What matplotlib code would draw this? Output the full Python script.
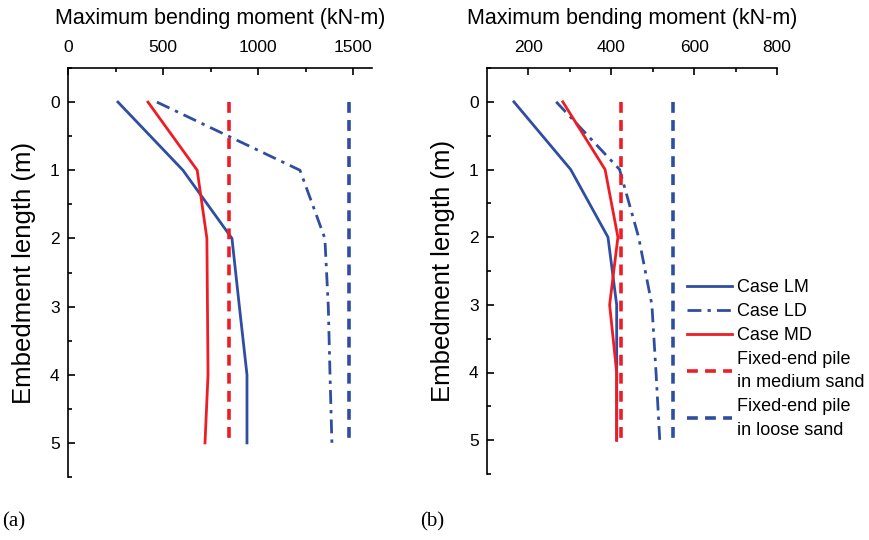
"""
Maximum bending moment vs embedment length, two panels (a) and (b)
"""
import matplotlib
matplotlib.use("Agg")
from matplotlib import pyplot as plt

plt.rcParams["font.family"] = ["Liberation Sans", "DejaVu Sans"]

BLUE = "#2f4ea1"
RED = "#ee1d25"

depth = [0, 1, 2, 3, 4, 5]
depth_fixed = [0, 5]

# Panel (a)
a_lm = [263, 605, 863, 902, 942, 942]
a_ld = [468, 1221, 1352, 1370, 1379, 1389]
a_md = [421, 680, 731, 734, 737, 721]
a_fixed_medium = [848, 848]
a_fixed_loose = [1479, 1479]

# Panel (b)
b_lm = [165, 302, 392, 413, 413, 413]
b_ld = [267, 420, 466, 498, 508, 517]
b_md = [283, 385, 416, 396, 413, 413]
b_fixed_medium = [424, 424]
b_fixed_loose = [549, 549]

legend_labels = ["Case LM", "Case LD", "Case MD",
                 "Fixed-end pile\nin medium sand", "Fixed-end pile\nin loose sand"]

fig = plt.figure(figsize=(8.69, 5.40), dpi=100)
ax_a = fig.add_axes([68 / 869, 63 / 540, 304 / 869, 409 / 540])
ax_b = fig.add_axes([487 / 869, 66 / 540, 290 / 869, 406 / 540])

lw = 2.0
dash_dot = (0, (5, 2.2, 1.2, 2.2))
dashed = (0, (3, 2))


def draw(ax, lm, ld, md, fixed_medium, fixed_loose):
    lines = []
    lines += ax.plot(lm, depth, color=BLUE, lw=lw, linestyle="-")
    lines += ax.plot(ld, depth, color=BLUE, lw=lw, linestyle=dash_dot)
    lines += ax.plot(md, depth, color=RED, lw=lw, linestyle="-")
    lines += ax.plot(fixed_medium, depth_fixed, color=RED, lw=2.6, linestyle=dashed)
    lines += ax.plot(fixed_loose, depth_fixed, color=BLUE, lw=2.6, linestyle=dashed)
    ax.set_ylim(5.5, -0.5)
    ax.xaxis.tick_top()
    ax.xaxis.set_label_position("top")
    ax.set_xlabel("Maximum bending moment (kN-m)", fontsize=15.5, labelpad=12)
    ax.set_ylabel("Embedment length (m)", fontsize=18.5, labelpad=10)
    for side in ["right", "bottom"]:
        ax.spines[side].set_visible(False)
    for side in ["left", "top"]:
        ax.spines[side].set_linewidth(1.2)
    ax.set_yticks(depth)
    ax.set_yticks([-0.5 + i for i in range(0, 6)] + [5.5], minor=True)
    ax.tick_params(axis="both", which="both", direction="in", labelsize=12.5,
                   width=1.2)
    ax.tick_params(axis="both", which="major", length=5, pad=6)
    ax.tick_params(axis="x", which="major", pad=9)
    ax.tick_params(axis="both", which="minor", length=3)
    ax.tick_params(axis="x", which="both", top=True, bottom=False)
    ax.tick_params(axis="y", which="both", left=True, right=False)
    return lines


draw(ax_a, a_lm, a_ld, a_md, a_fixed_medium, a_fixed_loose)
ax_a.set_xlim(0, 1600)
ax_a.set_xticks([0, 500, 1000, 1500])
ax_a.set_xticks([250, 750, 1250], minor=True)

lines_b = draw(ax_b, b_lm, b_ld, b_md, b_fixed_medium, b_fixed_loose)
ax_b.set_xlim(100, 800)
ax_b.set_xticks([200, 400, 600, 800])
ax_b.set_xticks([300, 500, 700], minor=True)

leg = ax_b.legend(lines_b, legend_labels, loc="upper left", bbox_to_anchor=(0.69, 0.48),
                  frameon=False, fontsize=13, handlelength=2.5, handletextpad=0.25,
                  labelspacing=0.38, borderaxespad=0, borderpad=0)
for text in leg.get_texts():
    text.set_linespacing(1.5)

fig.text(2 / 869, 1 - 522 / 540, "(a)", family=["Liberation Serif", "DejaVu Serif"],
         fontsize=15, va="center")
fig.text(420 / 869, 1 - 522 / 540, "(b)", family=["Liberation Serif", "DejaVu Serif"],
         fontsize=15, va="center")

fig.savefig("out.png", dpi=100)
